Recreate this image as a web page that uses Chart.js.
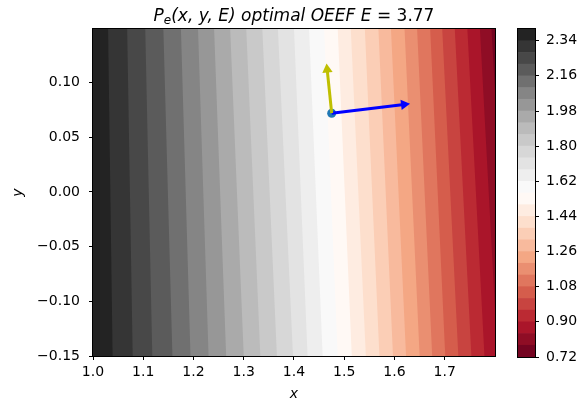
<!DOCTYPE html>
<html>
<head>
<meta charset="utf-8">
<script src="https://cdn.jsdelivr.net/npm/chart.js@4.4.1/dist/chart.umd.min.js"></script>
<style>
  html, body { margin: 0; padding: 0; background: #fff; }
  #wrap { position: relative; width: 579px; height: 403px; }
  #main { position: absolute; left: 0; top: 0; }
  #cbar { position: absolute; left: 500px; top: 0; }
</style>
</head>
<body>
<div id="wrap">
  <canvas id="main" width="579" height="403"></canvas>
  <canvas id="cbar" width="79" height="403"></canvas>
</div>
<script>
// contour levels of P_e (bounds of the colour bands)
const levels = [0.72, 0.78, 0.84, 0.90, 0.96, 1.02, 1.08, 1.14, 1.20, 1.26, 1.32, 1.38, 1.44, 1.50,
                1.56, 1.62, 1.68, 1.74, 1.80, 1.86, 1.92, 1.98, 2.04, 2.10, 2.16, 2.22, 2.28, 2.34, 2.40];
// x where each inner level (0.78 ... 2.34) meets the top edge and the bottom edge of the plot
const edgeTop = [1.793, 1.770, 1.745, 1.720, 1.695, 1.671, 1.645, 1.620, 1.593, 1.568, 1.541, 1.513, 1.487,
                 1.460, 1.430, 1.400, 1.368, 1.337, 1.305, 1.273, 1.241, 1.209, 1.175, 1.140, 1.104, 1.068, 1.030];
const edgeBottom = [1.830, 1.805, 1.779, 1.753, 1.727, 1.701, 1.675, 1.650, 1.623, 1.597, 1.570, 1.543, 1.515,
                    1.487, 1.457, 1.427, 1.398, 1.366, 1.333, 1.300, 1.265, 1.230, 1.194, 1.158, 1.118, 1.079, 1.039];

const xTicks = [1.0, 1.1, 1.2, 1.3, 1.4, 1.5, 1.6, 1.7];
const yTicks = [-0.15, -0.10, -0.05, 0.00, 0.05, 0.10];
const cbarTicks = [0.72, 0.90, 1.08, 1.26, 1.44, 1.62, 1.80, 1.98, 2.16, 2.34];

// optimum point and the two direction arrows (end points)
const optX = [1.475];
const optY = [0.072];
const arrowUp = [1.466, 0.112];
const arrowRight = [1.619, 0.080];

const xMin = 1.0, xMax = 1.8, yMin = -0.15, yMax = 0.149;

Chart.defaults.font.family = '"DejaVu Sans"';
Chart.defaults.font.size = 14;
Chart.defaults.color = '#000';

// RdGy colormap
const rdgy = [[103,0,31],[178,24,43],[214,96,77],[244,165,130],[253,219,199],[255,255,255],
              [224,224,224],[186,186,186],[135,135,135],[77,77,77],[26,26,26]];
function cmap(t) {
    const s = Math.min(Math.max(t, 0), 1) * 10;
    const i = Math.min(Math.floor(s), 9);
    const f = s - i;
    const a = rdgy[i], b = rdgy[i + 1];
    const c = a.map((v, k) => Math.round(v + (b[k] - v) * f));
    return 'rgb(' + c.join(',') + ')';
}
const lo = levels[0], hi = levels[levels.length - 1];
const bandColor = i => cmap(((levels[i] + levels[i + 1]) / 2 - lo) / (hi - lo));

// each band is filled from its left edge to the right side, later (redder) bands paint over
const bands = levels.slice(0, -1).map((v, i) => {
    const lt = i < edgeTop.length ? edgeTop[i] : xMin;
    const lb = i < edgeBottom.length ? edgeBottom[i] : xMin;
    return {
        data: [{x: lt, y: yMax}, {x: lb, y: yMin}, {x: xMax, y: yMin}, {x: xMax, y: yMax}],
        showLine: true,
        fill: 'shape',
        backgroundColor: bandColor(i),
        borderWidth: 0,
        pointRadius: 0,
        order: 100 + i
    };
});

function arrow(end, color) {
    return {
        data: [{x: optX[0], y: optY[0]}, {x: end[0], y: end[1]}],
        showLine: true,
        borderColor: color,
        borderWidth: 3,
        backgroundColor: color,
        pointBackgroundColor: color,
        pointRadius: [0, 6],
        pointStyle: 'triangle',
        pointBorderWidth: 0,
        rotation: function(c) {
            const sx = c.chart.scales.x, sy = c.chart.scales.y;
            const dx = sx.getPixelForValue(end[0]) - sx.getPixelForValue(optX[0]);
            const dy = sy.getPixelForValue(end[1]) - sy.getPixelForValue(optY[0]);
            return Math.atan2(dx, -dy) * 180 / Math.PI;
        },
        order: 1
    };
}

const marker = {
    data: [{x: optX[0], y: optY[0]}],
    pointRadius: 4.5,
    pointBackgroundColor: '#1f77b4',
    pointBorderColor: '#1f77b4',
    pointBorderWidth: 0,
    order: 2
};

// black box round the plotting area
const frame = {
    id: 'frame',
    afterDatasetsDraw(chart) {
        const {ctx, chartArea: {left, top, right, bottom}} = chart;
        ctx.save();
        ctx.strokeStyle = '#000';
        ctx.lineWidth = 1;
        ctx.strokeRect(left - 0.5, top - 0.5, right - left + 1, bottom - top + 1);
        ctx.restore();
    }
};

// title with subscript, centred over the axes
const mathTitle = {
    id: 'mathTitle',
    afterDraw(chart) {
        const {ctx, chartArea: {left, right}} = chart;
        const parts = [
            {t: 'P', f: 'italic 17px "DejaVu Sans"', dy: 0},
            {t: 'e', f: 'italic 12px "DejaVu Sans"', dy: 3.5},
            {t: '(x, y, E) optimal OEEF E', f: 'italic 17px "DejaVu Sans"', dy: 0},
            {t: ' = 3.77', f: '17px "DejaVu Sans"', dy: 0}
        ];
        ctx.save();
        let w = 0;
        parts.forEach(p => { ctx.font = p.f; p.w = ctx.measureText(p.t).width; w += p.w; });
        let x = (left + right) / 2 - w / 2;
        ctx.fillStyle = '#000';
        ctx.textBaseline = 'alphabetic';
        parts.forEach(p => { ctx.font = p.f; ctx.fillText(p.t, x, 20.5 + p.dy); x += p.w; });
        ctx.restore();
    }
};

const tickGrid = {display: true, drawOnChartArea: false, drawTicks: true, tickLength: 4, color: '#000', lineWidth: 1};

new Chart(document.getElementById('main'), {
    type: 'scatter',
    data: {datasets: [marker, arrow(arrowUp, '#bfbf00'), arrow(arrowRight, '#0000ff')].concat(bands)},
    options: {
        responsive: false,
        animation: false,
        events: [],
        layout: {padding: {top: 29, right: 84, left: 0, bottom: 0}},
        plugins: {legend: {display: false}, tooltip: {enabled: false}},
        scales: {
            x: {
                type: 'linear', min: xMin, max: xMax,
                afterBuildTicks: s => { s.ticks = xTicks.map(v => ({value: v})); },
                afterFit: s => { s.height = 47; },
                ticks: {padding: 4, callback: v => v.toFixed(1)},
                grid: tickGrid,
                border: {display: false},
                title: {display: true, text: 'x', font: {style: 'italic', size: 14}, padding: {top: 0, bottom: 0}}
            },
            y: {
                type: 'linear', min: yMin, max: yMax,
                afterBuildTicks: s => { s.ticks = yTicks.map(v => ({value: v})); },
                afterFit: s => { s.width = 93; },
                ticks: {padding: 9, callback: v => v.toFixed(2).replace('-', '\u2212')},
                grid: tickGrid,
                border: {display: false},
                title: {display: true, text: 'y', font: {style: 'italic', size: 14}, padding: {top: 10, bottom: 0}}
            }
        }
    },
    plugins: [frame, mathTitle]
});

// colour bar
new Chart(document.getElementById('cbar'), {
    type: 'bar',
    data: {
        labels: ['P'],
        datasets: levels.slice(0, -1).map((v, i) => ({
            data: [[v, levels[i + 1]]],
            backgroundColor: bandColor(i),
            borderWidth: 0,
            barPercentage: 1,
            categoryPercentage: 1,
            grouped: false
        }))
    },
    options: {
        responsive: false,
        animation: false,
        events: [],
        layout: {padding: {left: 18, top: 29, bottom: 46, right: 0}},
        plugins: {legend: {display: false}, tooltip: {enabled: false}},
        scales: {
            x: {display: false},
            y: {
                position: 'right', min: lo, max: hi,
                afterBuildTicks: s => { s.ticks = cbarTicks.map(v => ({value: v})); },
                afterFit: s => { s.width = 44; },
                ticks: {padding: 7, callback: v => v.toFixed(2)},
                grid: tickGrid,
                border: {display: false}
            }
        }
    },
    plugins: [frame]
});
</script>
</body>
</html>
